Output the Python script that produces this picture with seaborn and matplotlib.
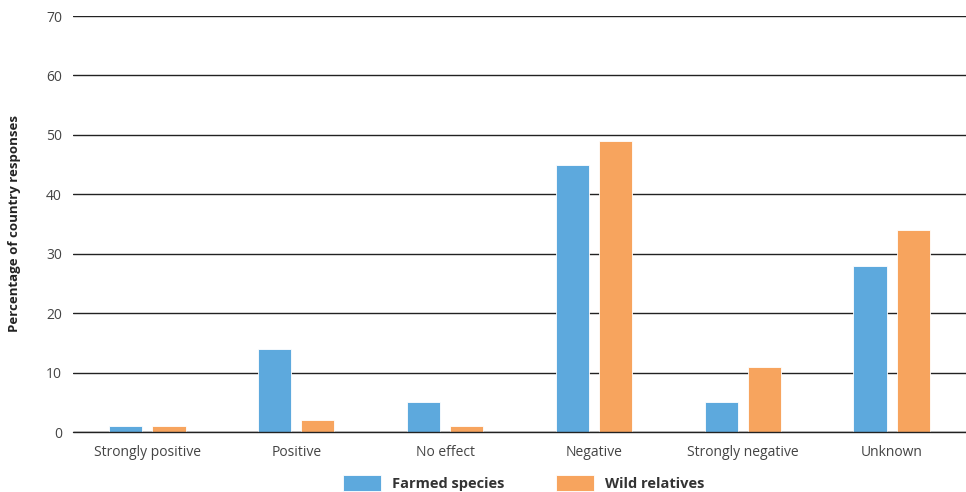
import matplotlib.pyplot as plt
import pandas as pd
import seaborn as sns

categories = ["Strongly positive", "Positive", "No effect", "Negative", "Strongly negative", "Unknown"]
farmed = [1, 14, 5, 45, 5, 28]
wild = [1, 2, 1, 49, 11, 34]
series_names = ["Farmed species", "Wild relatives"]

df = pd.DataFrame({
    "Effect": categories * 2,
    "Value": farmed + wild,
    "Group": [series_names[0]] * len(categories) + [series_names[1]] * len(categories),
})

sns.set_theme(style="white")
plt.rcParams['font.family'] = ['Open Sans', 'DejaVu Sans']

fig = plt.figure(figsize=(9.66, 4.92), dpi=100)
ax = fig.add_axes([73 / 966, 1 - 432 / 492, 1 - 73 / 966, 416 / 492])

sns.barplot(data=df, x="Effect", y="Value", hue="Group", order=categories,
            palette=["#5DA9DD", "#F7A45E"], saturation=1, width=0.58, gap=0.235,
            edgecolor="white", linewidth=0.6, ax=ax, zorder=3)

ax.set_ylim(0, 70)
ax.set_xlim(-0.5, 5.5)
ax.set_yticks(range(0, 71, 10))
ax.yaxis.grid(True, color="#222222", linewidth=1.0)
ax.axhline(0, color="#222222", linewidth=1.0, clip_on=False, zorder=4)
ax.set_axisbelow(True)
for s in ax.spines.values():
    s.set_visible(False)
ax.tick_params(axis="both", length=0, labelsize=10, labelcolor="#444444")
ax.tick_params(axis="y", pad=8)
ax.tick_params(axis="x", pad=9)
ax.set_xlabel("")
ax.set_ylabel("Percentage of country responses", fontsize=9.5, fontweight="bold",
              color="#222222", labelpad=18)

handles, labels = ax.get_legend_handles_labels()
ax.legend_.remove()
leg = fig.legend(handles, labels, loc="lower center", bbox_to_anchor=(0.542, -0.025),
                 ncol=2, frameon=False, handlelength=2.6, handleheight=1.3,
                 columnspacing=3.5, handletextpad=0.8,
                 prop={"weight": "bold", "size": 10.5})
for t in leg.get_texts():
    t.set_color("#333333")

fig.savefig("out.png", dpi=100)
